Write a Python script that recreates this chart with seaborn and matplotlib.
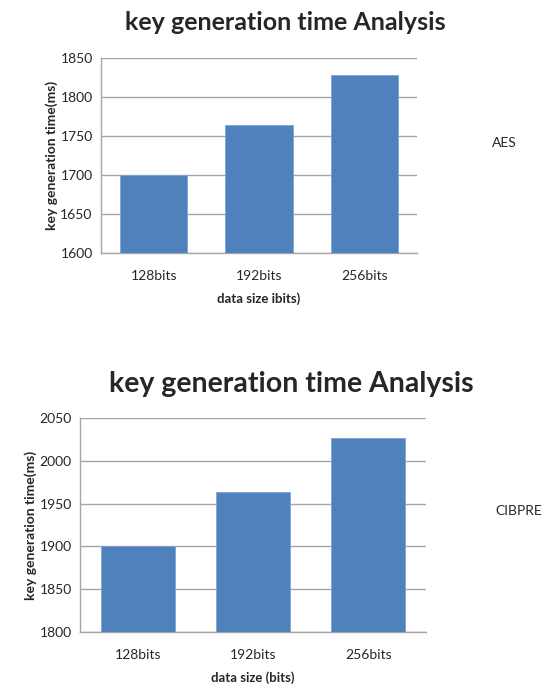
import matplotlib
matplotlib.use("Agg")
import matplotlib.pyplot as plt
import seaborn as sns
import pandas as pd

categories = ["128bits", "192bits", "256bits"]
aes_values = [1700, 1764, 1828]
cibpre_values = [1900, 1964, 2027]
aes_ticks = [1600, 1650, 1700, 1750, 1800, 1850]
cibpre_ticks = [1800, 1850, 1900, 1950, 2000, 2050]

sns.set_theme(style="white")
plt.rcParams['font.family'] = ['Lato', 'DejaVu Sans']

fig = plt.figure(figsize=(5.46, 6.9), dpi=100)
color = "#4F81BD"

def draw(ax, values, ticks, xlabel, title, legend, title_xy, title_size, legend_xy):
    df = pd.DataFrame({"cat": categories, "val": values})
    sns.barplot(data=df, x="cat", y="val", ax=ax, color=color, width=0.64,
                saturation=1, edgecolor="#7fa3d1", linewidth=0.6, zorder=3)
    ax.set_ylim(ticks[0], ticks[-1])
    ax.set_yticks(ticks)
    ax.set_yticklabels([str(t) for t in ticks], fontsize=10)
    ax.tick_params(axis='x', labelsize=10, length=0, pad=12)
    ax.tick_params(axis='y', length=0, pad=6)
    ax.yaxis.grid(True, color="#a6a6a6", linewidth=1, zorder=0)
    ax.set_axisbelow(True)
    for s in ["top", "right"]:
        ax.spines[s].set_visible(False)
    for s in ["left", "bottom"]:
        ax.spines[s].set_color("#a6a6a6")
        ax.spines[s].set_linewidth(1)
    ax.set_xlabel(xlabel, fontsize=9.5, fontweight="bold", labelpad=8)
    ax.set_ylabel("key generation time(ms)", fontsize=10, fontweight="bold", labelpad=2)
    fig.text(title_xy[0], title_xy[1], title, ha="center", va="center",
             fontsize=title_size, fontweight="bold")
    fig.text(legend_xy[0], legend_xy[1], legend, ha="left", va="center", fontsize=10)

ax1 = fig.add_axes([0.185, 1 - 253 / 690, 0.579, 0.2826])
draw(ax1, aes_values, aes_ticks, "data size ibits)", "key generation time Analysis",
     "AES", (285 / 546, 1 - 22 / 690), 18, (492 / 546, 1 - 143 / 690))

ax2 = fig.add_axes([0.1465, 0.0841, 0.6337, 0.310])
draw(ax2, cibpre_values, cibpre_ticks, "data size (bits)", "key generation time Analysis",
     "CIBPRE", (291 / 546, 1 - 384 / 690), 20.5, (495 / 546, 1 - 511 / 690))

fig.savefig("out.png", dpi=100)
